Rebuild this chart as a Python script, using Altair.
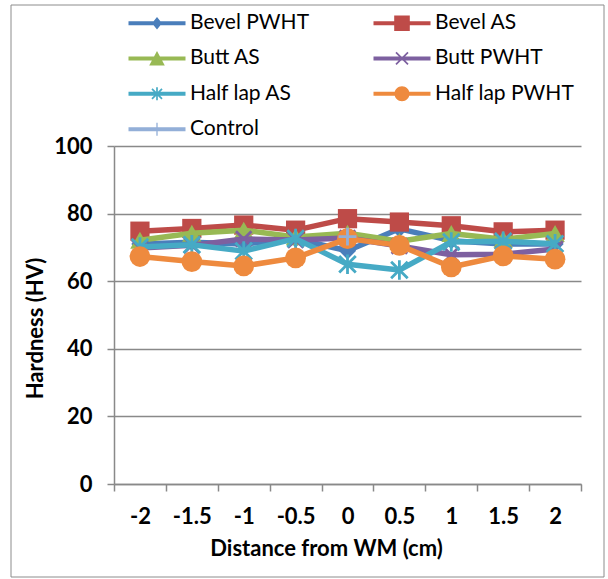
import math
import altair as alt
import pandas as pd

# ---------------- data ----------------
distances = ["-2", "-1.5", "-1", "-0.5", "0", "0.5", "1", "1.5", "2"]
series_names = ["Bevel PWHT", "Bevel AS", "\u00a0Butt AS", "\u00a0Butt PWHT",
                "Half lap AS", "Half lap PWHT", "Control"]
bevel_pwht = [71.0, 71.5, 71.0, 72.5, 69.0, 75.5, 72.0, 71.0, 71.0]
bevel_as = [74.8, 75.6, 76.6, 75.1, 78.5, 77.5, 76.4, 74.6, 75.1]
butt_as = [72.1, 74.2, 75.1, 73.1, 74.2, 71.8, 74.1, 72.4, 74.1]
butt_pwht = [69.8, 70.6, 72.5, 72.2, 72.8, 70.4, 67.8, 68.0, 69.5]
half_lap_as = [70.1, 70.8, 68.9, 72.6, 65.0, 63.3, 71.6, 71.8, 71.1]
half_lap_pwht = [67.3, 65.8, 64.5, 66.9, 72.6, 70.6, 64.2, 67.5, 66.5]
control = [None, None, None, None, 73.2, None, None, None, None]
y_ticks = [0, 20, 40, 60, 80, 100]

values = [bevel_pwht, bevel_as, butt_as, butt_pwht, half_lap_as, half_lap_pwht, control]
rows = []
for name, vals in zip(series_names, values):
    for d, v in zip(distances, vals):
        if v is not None:
            rows.append({"series": name, "dist": d, "hv": v})
df = pd.DataFrame(rows)

# ---------------- styles ----------------
colors = ["#4A7EBB", "#BE4B48", "#98B954", "#7D60A0", "#46AAC5", "#EE8A3E", "#93AFD8"]
X_PATH = "M-1,-1L1,1M-1,1L1,-1"
STAR_PATH = "M0,-1L0,1M-0.85,-0.85L0.85,0.85M-0.85,0.85L0.85,-0.85"
PLUS_PATH = "M-1,0L1,0M0,-1L0,1"
markers = [
    dict(shape="diamond", size=300, filled=True),
    dict(shape="square", size=370, filled=True),
    dict(shape="triangle-up", size=380, filled=True),
    dict(shape=X_PATH, size=240, filled=False, strokeWidth=2.8),
    dict(shape=STAR_PATH, size=380, filled=False, strokeWidth=2.8),
    dict(shape="circle", size=430, filled=True),
    dict(shape=PLUS_PATH, size=320, filled=False, strokeWidth=2.8),
]

# legend symbols: line + marker as filled paths (unit = 10px)
L0, L1 = -1.0, 4.7
CX = (L0 + L1) / 2
HT = 0.2


def poly(pts):
    a = sum(pts[i][0] * pts[(i + 1) % len(pts)][1] - pts[(i + 1) % len(pts)][0] * pts[i][1]
            for i in range(len(pts)))
    if a < 0:
        pts = pts[::-1]
    return "M" + "L".join(f"{x:.3f},{y:.3f}" for x, y in pts) + "Z"


def seg(xa, ya, xb, yb, w):
    dx, dy = xb - xa, yb - ya
    n = math.hypot(dx, dy)
    nx, ny = -dy / n * w / 2, dx / n * w / 2
    return poly([(xa + nx, ya + ny), (xb + nx, yb + ny), (xb - nx, yb - ny), (xa - nx, ya - ny)])


line_path = poly([(L0, -HT), (L1, -HT), (L1, HT), (L0, HT)])
r = 0.75
legend_markers = [
    poly([(CX, -0.62), (CX + 0.5, 0), (CX, 0.62), (CX - 0.5, 0)]),
    poly([(CX - 0.78, -0.78), (CX + 0.78, -0.78), (CX + 0.78, 0.78), (CX - 0.78, 0.78)]),
    poly([(CX, -0.75), (CX + 0.78, 0.72), (CX - 0.78, 0.72)]),
    seg(CX - 0.6, -0.6, CX + 0.6, 0.6, 0.17) + seg(CX - 0.6, 0.6, CX + 0.6, -0.6, 0.17),
    seg(CX, -0.65, CX, 0.65, 0.17) + seg(CX - 0.5, -0.5, CX + 0.5, 0.5, 0.17)
    + seg(CX - 0.5, 0.5, CX + 0.5, -0.5, 0.17),
    f"M{CX + r:.3f},0A{r},{r} 0 1,1 {CX - r:.3f},0A{r},{r} 0 1,1 {CX + r:.3f},0Z",
    seg(CX, -0.65, CX, 0.65, 0.13),
]
legend_paths = [line_path + m for m in legend_markers]

FONT = "Lato"
GRID = "#898989"

x_scale = alt.Scale(type="band", domain=distances, paddingInner=0, paddingOuter=0)
y_scale = alt.Scale(domain=[0, 100], nice=False)

x_axis = alt.Axis(
    tickBand="extent", labelAngle=0, labelFont=FONT, labelFontSize=22, labelFontWeight="bold",
    labelColor="black", labelPadding=15, tickSize=7, tickColor=GRID, tickWidth=1.5,
    domainColor=GRID, domainWidth=1.5, grid=False,
    title="Distance from WM (cm)", titleFont=FONT, titleFontSize=22, titleFontWeight="bold",
    titleColor="black", titleX=212, titleY=71, titleAlign="center", titleBaseline="alphabetic",
)
y_axis = alt.Axis(
    values=y_ticks, labelFont=FONT, labelFontSize=22, labelFontWeight="bold", labelColor="black",
    labelPadding=15, tickSize=7, tickColor=GRID, tickWidth=1.5, domainColor=GRID, domainWidth=1.5,
    grid=True, gridColor=GRID, gridWidth=1.5,
    title="Hardness (HV)", titleFont=FONT, titleFontSize=22, titleFontWeight="bold",
    titleColor="black", titleX=-72, titleY=182, titleAngle=270, titleAlign="center",
    titleBaseline="alphabetic",
)

X = alt.X("dist:N", scale=x_scale, axis=x_axis, bandPosition=0.5)
Y = alt.Y("hv:Q", scale=y_scale, axis=y_axis)

border = alt.Chart(pd.DataFrame({"a": [0]})).mark_rect(
    fillOpacity=0, stroke="#8c8c8c", strokeWidth=1
).encode(x=alt.value(-103), x2=alt.value(490), y=alt.value(-141), y2=alt.value(431))

layers = [border]
for name, col, mk in zip(series_names, colors, markers):
    base = alt.Chart(df).transform_filter(alt.datum.series == name)
    layers.append(base.mark_line(color=col, strokeWidth=5.5, strokeJoin="round").encode(x=X, y=Y))
    layers.append(base.mark_point(color=col, opacity=1, **mk).encode(x=X, y=Y))

legend = alt.Legend(
    orient="none", legendX=14, legendY=-133.5, columns=2, direction="horizontal", title=None,
    labelFont=FONT, labelFontSize=21, labelColor="black", labelOffset=41,
    symbolSize=400, symbolStrokeWidth=0, symbolOpacity=1, rowPadding=13.4,
    columnPadding=63, padding=0,
    labelExpr="indexof(datum.label, 'Butt') >= 0 ? '\u2002' + trim(datum.label) : datum.label",
)
legend_layer = alt.Chart(df).transform_filter("false").mark_point(filled=True, opacity=1).encode(
    x=X, y=Y,
    color=alt.Color("series:N", scale=alt.Scale(domain=series_names, range=colors), legend=legend),
    shape=alt.Shape("series:N", scale=alt.Scale(domain=series_names, range=legend_paths), legend=legend),
)
layers.append(legend_layer)

chart = alt.layer(*layers).properties(
    width=467, height=338,
    padding={"left": 114, "top": 146, "right": 27, "bottom": 95},
    autosize=alt.AutoSizeParams(type="none"),
    background="white",
).configure_view(stroke="transparent")

chart.save("out.html", embed_options={"renderer": "svg", "actions": False})
